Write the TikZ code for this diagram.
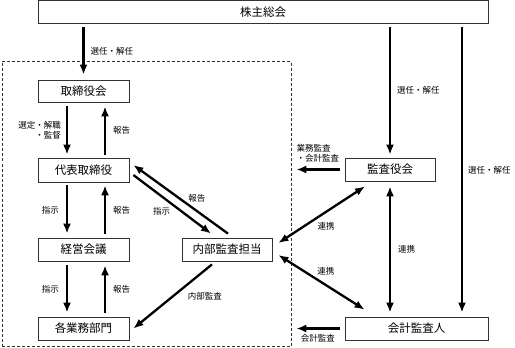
\documentclass[tikz,border=0pt]{standalone}
\usepackage{xcolor}
\usepackage{fontspec}
\setmainfont{Noto Sans CJK JP}
\usepackage{tikz}
\usetikzlibrary{arrows.meta, positioning, calc}
\definecolor{framegray}{HTML}{333333}

\tikzset{
  box/.style={draw=framegray, line width=0.8pt, minimum width=91pt, minimum height=23pt, inner sep=0pt, font=\fontsize{11.5}{12}\selectfont},
  lbl/.style={font=\fontsize{8.5}{10}\selectfont, inner sep=1pt},
  arr/.style={line width=2.3pt, -{Latex[length=10pt,width=8pt]}},
  dbl/.style={line width=2.3pt, {Latex[length=10pt,width=8pt]}-{Latex[length=10pt,width=8pt]}}
}

\begin{document}
\begin{tikzpicture}[x=1pt, y=-1pt]
  \useasboundingbox (0,0) rectangle (515,348);

  % boxes
  \node[box, minimum width=450pt, minimum height=22.5pt] (kabu) at (263,11.75) {株主総会};
  \node[draw=framegray, dashed, line width=0.7pt, dash pattern=on 3pt off 2pt, minimum width=289pt, minimum height=285pt] (shikkou) at (146.5,204) {};
  \node[box, minimum height=22pt] (torishimari) at (83.5,91) {取締役会};
  \node[box, minimum height=24pt] (daihyo) at (83.5,170) {代表取締役};
  \node[box] (keiei) at (83.5,249.5) {経営会議};
  \node[box] (kakubu) at (83.5,328.5) {各業務部門};
  \node[box, minimum width=90pt] (naibu) at (227,249.5) {内部監査担当};
  \node[box, minimum width=90pt] (kansayaku) at (390,169.5) {監査役会};
  \node[box, minimum width=143pt] (kaikei) at (416.5,328.5) {会計監査人};

  % from the shareholders meeting
  \draw[arr, shorten <=4pt, shorten >=5pt] (torishimari.north |- kabu.south) -- (torishimari.north)
    node[lbl, midway, right=5pt] {選任・解任};
  \draw[arr, shorten <=4pt, shorten >=3pt] (kansayaku.north |- kabu.south) -- (kansayaku.north)
    node[lbl, midway, right=5pt] {選任・解任};
  \draw[arr, shorten <=4pt, shorten >=4pt] ([xshift=45.5pt]kaikei.north |- kabu.south) -- ([xshift=45.5pt]kaikei.north)
    node[lbl, midway, right=4pt] {選任・解任};

  % inside the company
  \draw[arr, shorten <=4pt, shorten >=3pt] ([xshift=-16.5pt]torishimari.south) -- ([xshift=-16.5pt]daihyo.north)
    node[lbl, midway, left=4pt, align=right] {選定・解職\\・監督};
  \draw[arr, shorten <=3pt, shorten >=4pt] ([xshift=21.5pt]daihyo.north) -- ([xshift=21.5pt]torishimari.south)
    node[lbl, midway, right=6pt] {報告};
  \draw[arr, shorten <=3pt, shorten >=4pt] ([xshift=-16.5pt]daihyo.south) -- ([xshift=-16.5pt]keiei.north)
    node[lbl, midway, left=6pt] {指示};
  \draw[arr, shorten <=4pt, shorten >=3pt] ([xshift=21.5pt]keiei.north) -- ([xshift=21.5pt]daihyo.south)
    node[lbl, midway, right=6pt] {報告};
  \draw[arr, shorten <=4pt, shorten >=4pt] ([xshift=-16.5pt]keiei.south) -- ([xshift=-16.5pt]kakubu.north)
    node[lbl, midway, left=6pt] {指示};
  \draw[arr, shorten <=4pt, shorten >=4pt] ([xshift=21.5pt]kakubu.north) -- ([xshift=21.5pt]keiei.south)
    node[lbl, midway, right=6pt] {報告};

  \draw[arr] ([xshift=4pt, yshift=-5pt]daihyo.east) -- ([xshift=-16pt, yshift=4pt]naibu.north)
    node[lbl, pos=0.45, below left=4pt and -4pt] {指示};
  \draw[arr] ([xshift=1pt, yshift=4pt]naibu.north) -- ([xshift=4pt, yshift=5pt]daihyo.east)
    node[lbl, pos=0.4, above right=2pt and -4pt] {報告};
  \draw[arr] ([xshift=-15pt, yshift=-3pt]naibu.south) -- ([xshift=4pt]kakubu.east)
    node[lbl, pos=0.5, right=13pt] {内部監査};

  % audit
  \draw[arr, shorten <=5pt, shorten >=5pt] (kansayaku.west) -- (kansayaku.west -| shikkou.east)
    node[lbl, midway, above=5pt, align=left] {業務監査\\・会計監査};
  \draw[arr, shorten <=5pt, shorten >=5pt] (kaikei.west) -- (kaikei.west -| shikkou.east)
    node[lbl, midway, below=4pt] {会計監査};
  \draw[dbl] ([xshift=-25pt, yshift=-5pt]kansayaku.south) -- ([xshift=6pt, yshift=6.5pt]naibu.east)
    node[lbl, pos=0.7, right=11pt] {連携};
  \draw[dbl] ([xshift=6pt, yshift=-5.5pt]naibu.east) -- ([xshift=20pt, yshift=7pt]kaikei.north west)
    node[lbl, pos=0.3, right=11pt] {連携};
  \draw[dbl, shorten <=5pt, shorten >=4pt] (kansayaku.south) -- (kansayaku.south |- kaikei.north)
    node[lbl, midway, right=6pt] {連携};
\end{tikzpicture}
\end{document}
